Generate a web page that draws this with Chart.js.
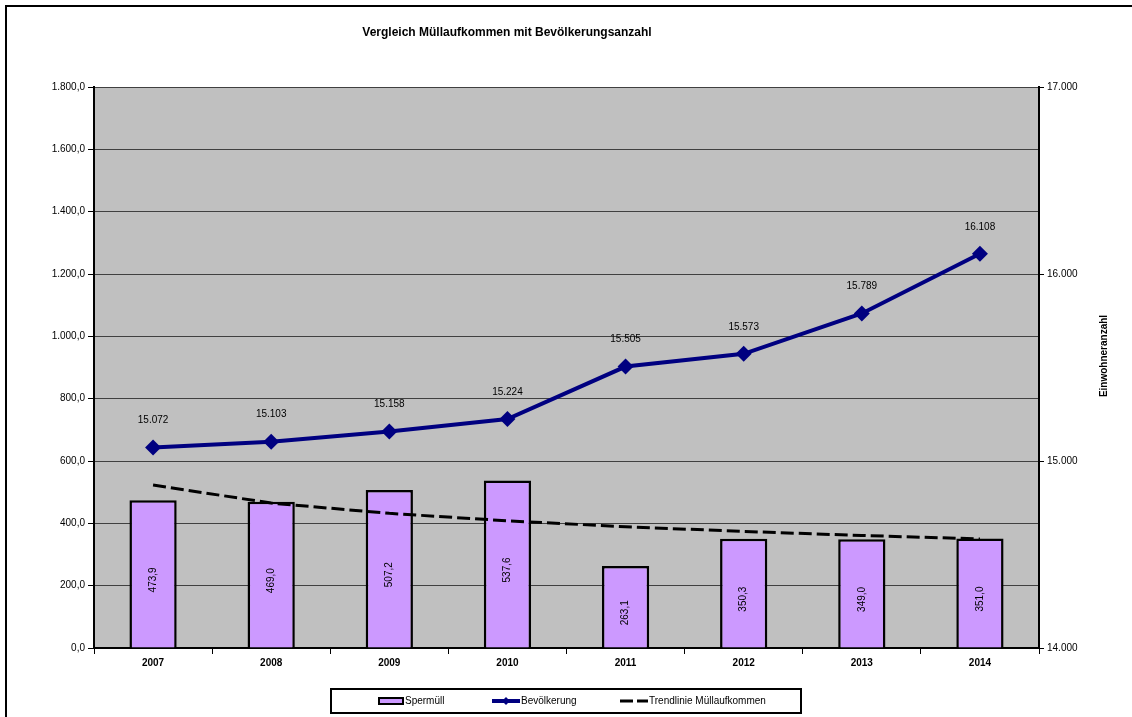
<!DOCTYPE html>
<html>
<head>
<meta charset="utf-8">
<script src="https://cdn.jsdelivr.net/npm/chart.js@4/dist/chart.umd.min.js"></script>
<style>
  body { margin: 0; background: #fff; }
  #wrap { position: relative; width: 1132px; height: 717px; }
</style>
</head>
<body>
<div id="wrap"><canvas id="muellChart"></canvas></div>
<script>
const years = ['2007', '2008', '2009', '2010', '2011', '2012', '2013', '2014'];
const sperrmuell = [473.9, 469.0, 507.2, 537.6, 263.1, 350.3, 349.0, 351.0];
const bevoelkerung = [15072, 15103, 15158, 15224, 15505, 15573, 15789, 16108];
const trendMuell = [523, 465, 432, 408, 389, 374, 361, 350];

const leftTicks = [0, 200, 400, 600, 800, 1000, 1200, 1400, 1600, 1800];
const rightTicks = [14000, 15000, 16000, 17000];

const FONT = '"Liberation Sans", Arial, sans-serif';

// German number format: 1.800,0 / 15.072
function fmtDe(v, decimals) {
  const parts = v.toFixed(decimals).split('.');
  parts[0] = parts[0].replace(/\B(?=(\d{3})+(?!\d))/g, '.');
  return parts.join(',');
}

const backgroundPlugin = {
  id: 'plotBackground',
  beforeDraw(chart) {
    const { ctx, chartArea: a } = chart;
    ctx.save();
    ctx.fillStyle = '#c0c0c0';
    ctx.fillRect(a.left, a.top, a.right - a.left, a.bottom - a.top);
    ctx.restore();
  }
};

const labelsPlugin = {
  id: 'valueLabels',
  afterDatasetsDraw(chart) {
    const ctx = chart.ctx;
    ctx.save();
    ctx.fillStyle = '#000';
    ctx.font = '10px ' + FONT;
    ctx.textAlign = 'center';
    ctx.textBaseline = 'middle';

    // population numbers above the markers
    chart.getDatasetMeta(2).data.forEach((pt, i) => {
      ctx.fillText(fmtDe(bevoelkerung[i], 0), pt.x, pt.y - 27);
    });

    // rotated values inside the bars
    chart.getDatasetMeta(0).data.forEach((bar, i) => {
      ctx.save();
      ctx.translate(bar.x, (bar.y + bar.base) / 2 + 6);
      ctx.rotate(-Math.PI / 2);
      ctx.fillText(fmtDe(sperrmuell[i], 1), 0, 0);
      ctx.restore();
    });
    ctx.restore();
  }
};

const framePlugin = {
  id: 'frameAndLegend',
  afterDraw(chart) {
    const ctx = chart.ctx;
    const ds = chart.data.datasets;
    ctx.save();

    // outer frame (top and left edge)
    ctx.strokeStyle = '#000';
    ctx.lineWidth = 2;
    ctx.beginPath();
    ctx.moveTo(6, 717);
    ctx.lineTo(6, 6);
    ctx.lineTo(1132, 6);
    ctx.stroke();

    // title
    ctx.fillStyle = '#000';
    ctx.font = 'bold 12px ' + FONT;
    ctx.textAlign = 'center';
    ctx.textBaseline = 'middle';
    ctx.fillText('Vergleich Müllaufkommen mit Bevölkerungsanzahl', 507, 33);

    // right axis title
    ctx.save();
    ctx.translate(1104, 356);
    ctx.rotate(-Math.PI / 2);
    ctx.font = 'bold 10px ' + FONT;
    ctx.fillText('Einwohneranzahl', 0, 0);
    ctx.restore();

    // legend box
    ctx.lineWidth = 2;
    ctx.strokeRect(331, 689, 470, 24);
    ctx.font = '10px ' + FONT;
    ctx.textAlign = 'left';
    const ly = 701;

    ctx.fillStyle = ds[0].backgroundColor;
    ctx.fillRect(379, ly - 3, 24, 6);
    ctx.lineWidth = 2;
    ctx.strokeStyle = '#000';
    ctx.strokeRect(379, ly - 3, 24, 6);
    ctx.fillStyle = '#000';
    ctx.fillText(ds[0].label, 405, ly);

    ctx.strokeStyle = ds[2].borderColor;
    ctx.lineWidth = 4;
    ctx.beginPath();
    ctx.moveTo(492, ly);
    ctx.lineTo(520, ly);
    ctx.stroke();
    ctx.fillStyle = ds[2].borderColor;
    ctx.beginPath();
    ctx.moveTo(506, ly - 4);
    ctx.lineTo(510, ly);
    ctx.lineTo(506, ly + 4);
    ctx.lineTo(502, ly);
    ctx.closePath();
    ctx.fill();
    ctx.fillStyle = '#000';
    ctx.fillText(ds[2].label, 521, ly);

    ctx.strokeStyle = '#000';
    ctx.lineWidth = 3;
    ctx.setLineDash([13, 4]);
    ctx.beginPath();
    ctx.moveTo(620, ly);
    ctx.lineTo(648, ly);
    ctx.stroke();
    ctx.setLineDash([]);
    ctx.fillText(ds[1].label, 649, ly);

    ctx.restore();
  }
};

Chart.defaults.font.family = FONT;
Chart.defaults.font.size = 10;
Chart.defaults.color = '#000';

new Chart(document.getElementById('muellChart'), {
  data: {
    labels: years,
    datasets: [
      {
        type: 'bar',
        label: 'Spermüll',
        data: sperrmuell,
        yAxisID: 'y',
        backgroundColor: '#cc99ff',
        borderColor: '#000',
        borderWidth: 2.5,
        barPercentage: 0.4,
        categoryPercentage: 1,
        order: 3
      },
      {
        type: 'line',
        label: 'Trendlinie Müllaufkommen',
        data: trendMuell,
        yAxisID: 'y',
        borderColor: '#000',
        borderWidth: 3,
        borderDash: [13, 5],
        pointRadius: 0,
        fill: false,
        order: 2
      },
      {
        type: 'line',
        label: 'Bevölkerung',
        data: bevoelkerung,
        yAxisID: 'y2',
        borderColor: '#000080',
        backgroundColor: '#000080',
        borderWidth: 4,
        pointStyle: 'rectRot',
        pointRadius: 8,
        pointBorderWidth: 0,
        pointBackgroundColor: '#000080',
        fill: false,
        order: 1
      }
    ]
  },
  options: {
    responsive: true,
    maintainAspectRatio: false,
    animation: false,
    layout: { padding: { top: 87, left: 0, right: 0, bottom: 0 } },
    plugins: {
      legend: { display: false },
      title: { display: false },
      tooltip: { enabled: false }
    },
    scales: {
      x: {
        grid: { offset: true, drawOnChartArea: false, tickLength: 6, color: '#000' },
        border: { color: '#000', width: 2 },
        ticks: { font: { weight: 'bold', size: 10 }, padding: 3 },
        afterFit(scale) { scale.height = 69; }
      },
      y: {
        position: 'left',
        min: 0,
        max: 1800,
        afterBuildTicks(scale) { scale.ticks = leftTicks.map(v => ({ value: v })); },
        grid: { color: '#404040', lineWidth: 1, tickLength: 6, tickColor: '#000' },
        border: { color: '#000', width: 2 },
        ticks: { callback: v => fmtDe(v, 1), padding: 3 },
        afterFit(scale) { scale.width = 94; }
      },
      y2: {
        position: 'right',
        min: 14000,
        max: 17000,
        afterBuildTicks(scale) { scale.ticks = rightTicks.map(v => ({ value: v })); },
        grid: { drawOnChartArea: false, tickLength: 5, color: '#000' },
        border: { color: '#000', width: 2 },
        ticks: { callback: v => fmtDe(v, 0), padding: 3 },
        afterFit(scale) { scale.width = 93; }
      }
    }
  },
  plugins: [backgroundPlugin, labelsPlugin, framePlugin]
});
</script>
</body>
</html>
